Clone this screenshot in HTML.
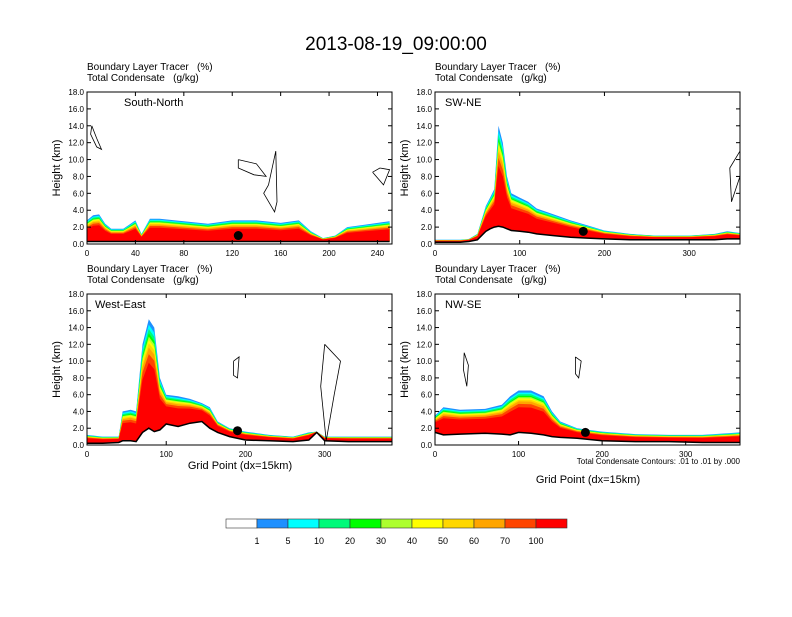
<!DOCTYPE html>
<html><head><meta charset="utf-8"><style>
body{margin:0;background:#fff;}
svg{font-family:"Liberation Sans",sans-serif;}
</style></head><body>
<svg id="c" width="792" height="612" viewBox="0 0 792 612" xmlns="http://www.w3.org/2000/svg">
<text x="396" y="50" font-size="19" text-anchor="middle">2013-08-19_09:00:00</text>
</svg>
<script>
// Panel data: grid points and top height (km) of boundary-layer tracer, terrain heights
const p1X=[0,5,10,15,20,30,40,45,52,60,80,100,120,140,160,175,185,195,205,215,230,250];
const p1H=[2.8,3.4,3.5,2.4,1.8,1.8,2.8,1.2,3.0,3.0,2.7,2.4,2.8,2.8,2.5,2.8,1.5,0.7,1.0,2.0,2.3,2.7];
const p1T=[0.3,0.3,0.3,0.3,0.3,0.3,0.3,0.3,0.3,0.3,0.3,0.3,0.3,0.3,0.3,0.3,0.3,0.3,0.3,0.3,0.3,0.3];
const p2X=[0,30,40,50,60,65,70,75,80,85,90,100,110,120,140,160,180,200,230,260,300,330,345,360];
const p2H=[0.5,0.5,0.6,1.2,4.5,5.5,6.5,14,12,8,6,5.5,5,4.2,3.5,2.8,2.2,1.6,1.2,1.0,1.0,1.2,1.5,1.3];
const p2T=[0.2,0.2,0.3,0.5,1.5,1.8,2.0,2.1,2.0,1.8,1.6,1.5,1.4,1.2,1.0,0.8,0.7,0.6,0.5,0.5,0.5,0.5,0.6,0.6];
const p3X=[0,20,40,45,55,62,70,78,85,92,100,115,130,145,155,165,180,200,230,260,280,290,300,330,385];
const p3H=[1.2,1.0,1.0,4.0,4.2,4.0,12,15,14,8,6,5.8,5.5,5.0,4.5,2.8,2.0,1.6,1.2,1.0,1.5,1.6,1.0,1.0,1.0];
const p3T=[0.2,0.2,0.3,0.5,0.5,0.4,1.5,2.0,1.6,1.8,2.5,2.2,2.6,2.8,2.0,1.5,1.0,0.6,0.5,0.4,0.6,1.5,0.5,0.4,0.4];
const p4X=[0,10,30,60,80,90,100,115,130,140,150,170,200,240,280,320,350,365];
const p4H=[3.5,4.5,4.2,4.3,4.8,5.8,6.5,6.5,5.8,4.0,2.8,2.0,1.6,1.3,1.2,1.2,1.4,1.5];
const p4T=[1.5,1.2,1.3,1.4,1.3,1.2,1.5,1.4,1.2,1.0,0.9,0.8,0.5,0.4,0.4,0.3,0.3,0.3];
// condensate contour outlines (grid point, km)
const c1A=[[4,14],[8,12.5],[12,11.2],[8,11.5],[3,13],[4,14]];
const c1B=[[125,10],[140,9.5],[148,8],[138,8.2],[125,9],[125,10]];
const c1C=[[150,7],[156,11],[157,5],[155,3.8],[146,6],[150,7]];
const c1D=[[236,8.5],[245,7],[250,8.8],[242,9],[236,8.5]];
const c3A=[[300,12],[320,10],[312,6],[302,0.5],[295,7],[300,12]];
const c3B=[[185,10],[192,10.5],[190,8],[185,8.3],[185,10]];
const c2A=[[360,11],[348,9],[350,5],[360,8]];
const c4A=[[35,11],[40,9.5],[38,7],[34,9],[35,11]];
const c4B=[[168,10.5],[175,10],[172,8],[168,8.5],[168,10.5]];
const panelContours=[[c1A,c1B,c1C,c1D],[c2A],[c3A,c3B],[c4A,c4B]];
const p1Ticks=[0,40,80,120,160,200,240];
const p234Ticks=[0,100,200,300];
const yTicks=[0,2,4,6,8,10,12,14,16,18];
const cbLabels=["1","5","10","20","30","40","50","60","70","100"];
const cbColors=["#ffffff","#1e90ff","#00ffff","#00fa7a","#00ff00","#adff2f","#ffff00","#ffd700","#ffa500","#ff4500","#ff0000"];

const NS="http://www.w3.org/2000/svg";
const svg=document.getElementById('c');
function mk(tag,attrs,parent){const e=document.createElementNS(NS,tag);for(const k in attrs)e.setAttribute(k,attrs[k]);(parent||svg).appendChild(e);return e;}

const panels=[
 {x0:87,y0:92,w:305,h:152,max:252,X:p1X,H:p1H,T:p1T,ticks:p1Ticks,label:"South-North",dot:125,name:"south-north"},
 {x0:435,y0:92,w:305,h:152,max:360,X:p2X,H:p2H,T:p2T,ticks:p234Ticks,label:"SW-NE",dot:175,name:"sw-ne"},
 {x0:87,y0:294,w:305,h:151,max:385,X:p3X,H:p3H,T:p3T,ticks:p234Ticks,label:"West-East",dot:190,name:"west-east"},
 {x0:435,y0:294,w:305,h:151,max:365,X:p4X,H:p4H,T:p4T,ticks:p234Ticks,label:"NW-SE",dot:180,name:"nw-se"}
];
const fr=[1.0,0.95,0.91,0.87,0.84,0.81,0.78,0.74,0.68,0.6];
const bandCols=cbColors.slice(1);
panels.forEach((p,pi)=>{
 const g=mk('g',{});
 
 
 const sx=v=>p.x0+v/p.max*p.w, sy=v=>p.y0+p.h-v/18*p.h;
 mk('text',{x:p.x0,y:p.y0-22,'font-size':10,'xml:space':'preserve'},g).textContent="Boundary Layer Tracer\u00a0\u00a0\u00a0(%)";
 mk('text',{x:p.x0,y:p.y0-11,'font-size':10},g).textContent="Total Condensate\u00a0\u00a0\u00a0(g/kg)";
 for(let b=0;b<fr.length;b++){
  let d="";
  p.X.forEach((x,i)=>{const top=p.T[i]+(p.H[i]-p.T[i])*fr[b];d+=(i?"L":"M")+sx(x).toFixed(1)+","+sy(top).toFixed(1);});
  for(let i=p.X.length-1;i>=0;i--)d+="L"+sx(p.X[i]).toFixed(1)+","+sy(p.T[i]).toFixed(1);
  const e=mk('path',{d:d+"Z",fill:bandCols[b]},g);
  
  
 }
 panelContours[pi].forEach(pts=>{
  const d=pts.map((q,i)=>(i?"L":"M")+sx(q[0]).toFixed(1)+","+sy(q[1]).toFixed(1)).join("");
  const e=mk('path',{d:d,fill:'none',stroke:'#000','stroke-width':0.8},g);
  
  
 });
 let td="";p.X.forEach((x,i)=>{td+=(i?"L":"M")+sx(x).toFixed(1)+","+sy(p.T[i]).toFixed(1);});
 const tl=mk('path',{d:td,fill:'none',stroke:'#000','stroke-width':1.5},g);
 
 
 let k=0;while(k<p.X.length-1&&p.X[k+1]<p.dot)k++;
 const c=mk('circle',{cx:sx(p.dot),cy:sy(p.T[k]+0.7),r:4.5,fill:'#000'},g);
 
 
 const fr2=mk('rect',{x:p.x0,y:p.y0,width:p.w,height:p.h,fill:'none',stroke:'#000','stroke-width':1},g);
 
 
 mk('text',{x:p.x0+(pi==1||pi==3?10:pi==2?8:37),y:p.y0+14,'font-size':11},g).textContent=p.label;
 yTicks.forEach(t=>{const y=sy(t);mk('line',{x1:p.x0,x2:p.x0+4,y1:y,y2:y,stroke:'#000'},g);mk('line',{x1:p.x0+p.w,x2:p.x0+p.w-4,y1:y,y2:y,stroke:'#000'},g);
  mk('text',{x:p.x0-3,y:y+3,'font-size':8,'text-anchor':'end'},g).textContent=t.toFixed(1);});
 p.ticks.forEach(t=>{const x=sx(t);mk('line',{x1:x,x2:x,y1:p.y0+p.h,y2:p.y0+p.h-4,stroke:'#000'},g);mk('line',{x1:x,x2:x,y1:p.y0,y2:p.y0+4,stroke:'#000'},g);
  mk('text',{x:x,y:p.y0+p.h+12,'font-size':8,'text-anchor':'middle'},g).textContent=t;});
 const yl=mk('text',{x:0,y:0,'font-size':11,'text-anchor':'middle',transform:`translate(${p.x0-27},${p.y0+p.h/2}) rotate(-90)`},g);
 yl.textContent="Height (km)";
 
 
});
mk('text',{x:240,y:469,'font-size':11,'text-anchor':'middle'}).textContent="Grid Point (dx=15km)";
mk('text',{x:740,y:464,'font-size':8,'text-anchor':'end'}).textContent="Total Condensate Contours: .01 to .01 by .000";
mk('text',{x:588,y:483,'font-size':11,'text-anchor':'middle'}).textContent="Grid Point (dx=15km)";
const cb=mk('g',{});


cbColors.forEach((col,i)=>{const r=mk('rect',{x:226+i*31,y:519,width:31,height:9,fill:col,stroke:'#333','stroke-width':0.6},cb);
 
 });
cbLabels.forEach((l,i)=>{mk('text',{x:257+i*31,y:544,'font-size':9,'text-anchor':'middle'},cb).textContent=l;});
</script>
</body></html>
